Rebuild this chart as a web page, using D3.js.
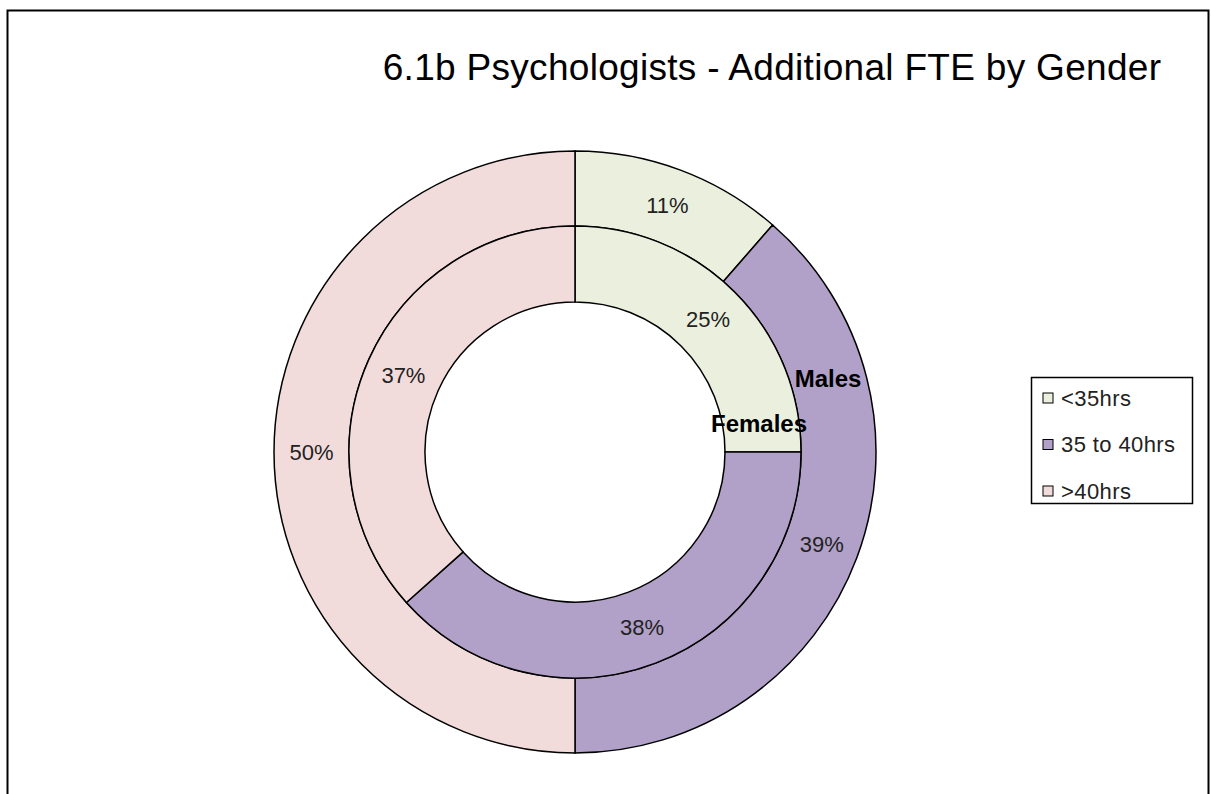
<!DOCTYPE html>
<html>
  <head>
    <meta charset="utf-8" />
    <script src="https://d3js.org/d3.v7.min.js"></script>
    <style>
      body { margin: 0; background: #fff; }
      text { font-family: "Liberation Sans", Arial, sans-serif; }
    </style>
  </head>
  <body>
    <svg width="1211" height="794"></svg>
    <script>
      // chart data
      const categories = ["<35hrs", "35 to 40hrs", ">40hrs"];
      const colors = ["#ebf0de", "#b1a0c7", "#f2dcdb"];
      const maleValues = [11.4, 38.6, 50.0];
      const maleLabels = ["11%", "39%", "50%"];
      const femaleValues = [25.0, 38.4, 36.6];
      const femaleLabels = ["25%", "38%", "37%"];

      const svg = d3.select("svg");
      const cx = 575, cy = 452;

      // frame
      svg.append("rect")
        .attr("x", 7.5).attr("y", 10.5)
        .attr("width", 1201).attr("height", 800)
        .attr("fill", "none").attr("stroke", "#000").attr("stroke-width", 2);

      svg.append("text")
        .attr("x", 772).attr("y", 80)
        .attr("text-anchor", "middle")
        .attr("font-size", "37px")
        .attr("letter-spacing", "0.3px")
        .text("6.1b Psychologists - Additional FTE by Gender");

      const pie = d3.pie().sort(null).value((d) => d);
      const g = svg.append("g").attr("transform", `translate(${cx},${cy})`);

      function ring(values, labels, r0, r1) {
        const arc = d3.arc().innerRadius(r0).outerRadius(r1);
        const arcs = pie(values);
        g.append("g").selectAll("path")
          .data(arcs)
          .enter()
          .append("path")
          .attr("d", arc)
          .attr("fill", (d, i) => colors[i])
          .attr("stroke", "#000")
          .attr("stroke-width", 1.5);
        g.append("g").selectAll("text")
          .data(arcs)
          .enter()
          .append("text")
          .attr("x", (d) => arc.centroid(d)[0])
          .attr("y", (d) => arc.centroid(d)[1])
          .attr("dy", "0.35em")
          .attr("text-anchor", "middle")
          .attr("font-size", "22px")
          .attr("fill", "#222")
          .text((d, i) => labels[i]);
      }

      ring(maleValues, maleLabels, 226, 301);
      ring(femaleValues, femaleLabels, 150, 226);

      // series names
      svg.append("text")
        .attr("x", 828).attr("y", 387)
        .attr("text-anchor", "middle")
        .attr("font-size", "24px").attr("font-weight", "bold")
        .text("Males");
      svg.append("text")
        .attr("x", 759).attr("y", 432)
        .attr("text-anchor", "middle")
        .attr("font-size", "24px").attr("font-weight", "bold")
        .text("Females");

      // legend
      const legend = svg.append("g").attr("transform", "translate(1031,377)");
      legend.append("rect")
        .attr("x", 0.5).attr("y", 0.5)
        .attr("width", 161).attr("height", 126)
        .attr("fill", "#fff").attr("stroke", "#000").attr("stroke-width", 1.5);
      const item = legend.selectAll(".item")
        .data(categories)
        .enter()
        .append("g")
        .attr("transform", (d, i) => `translate(0,${21 + i * 46.5})`);
      item.append("rect")
        .attr("x", 12).attr("y", -5)
        .attr("width", 10).attr("height", 10)
        .attr("fill", (d, i) => colors[i])
        .attr("stroke", "#000").attr("stroke-width", 1);
      item.append("text")
        .attr("x", 30).attr("y", 0)
        .attr("dy", "0.35em")
        .attr("font-size", "22px")
        .attr("letter-spacing", "0.4px")
        .attr("fill", "#222")
        .text((d) => d);
    </script>
  </body>
</html>
